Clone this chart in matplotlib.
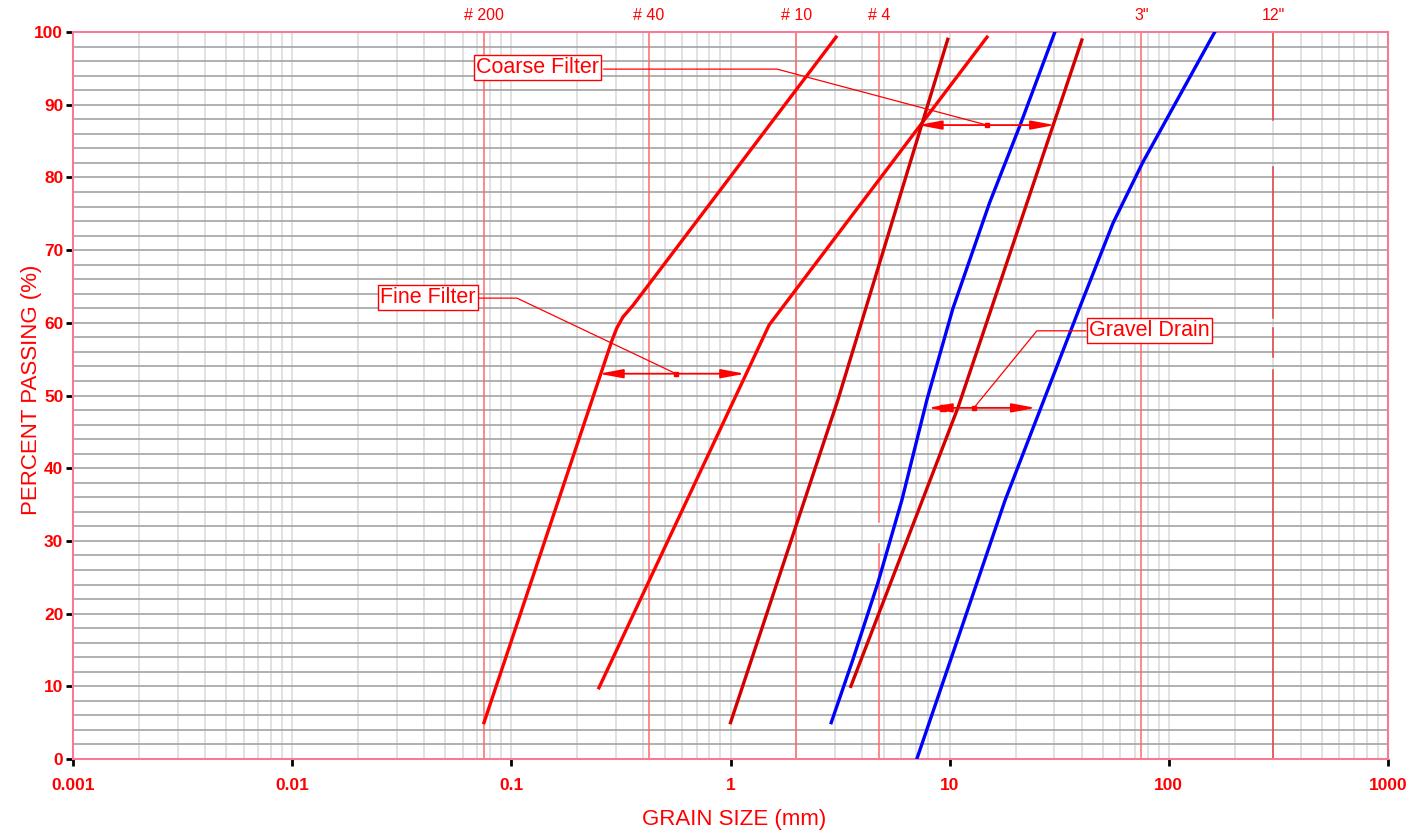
import numpy as np
import matplotlib
matplotlib.use('Agg')
import matplotlib.pyplot as plt
from matplotlib.ticker import LogLocator, MultipleLocator, FixedLocator, NullFormatter

plt.rcParams['font.family'] = ['Liberation Sans', 'DejaVu Sans']

# gradation curves (grain size mm, percent passing)
fine_lo_d = [0.075, 0.288, 0.303, 0.323, 0.359, 3.03]
fine_lo_p = [5.0, 57.6, 59.3, 60.8, 62.4, 99.3]
fine_hi_d = [0.251, 1.5, 14.8]
fine_hi_p = [9.8, 59.7, 99.3]

coarse_lo_d = [1.0, 3.09, 9.8]
coarse_lo_p = [5.0, 49.4, 99.0]
coarse_hi_d = [3.54, 10.9, 40.1]
coarse_hi_p = [10.0, 48.3, 98.9]

gravel_lo_d = [2.88, 3.61, 4.70, 6.05, 7.87, 10.35, 15.2, 20.9, 30.2]
gravel_lo_p = [5.0, 13.6, 24.2, 35.6, 49.4, 62.0, 76.5, 87.1, 100.0]
gravel_hi_d = [7.08, 17.9, 39.3, 55.6, 76.1, 162.0]
gravel_hi_p = [0.0, 35.6, 62.2, 73.7, 82.1, 100.0]

# sieve reference lines
sieve_d = [0.075, 0.425, 2.0, 4.75, 75, 300]
sieve_lab = ['# 200', '# 40', '# 10', '# 4', '3"', '12"']

x_ticks = [0.001, 0.01, 0.1, 1, 10, 100, 1000]
x_ticklab = ['0.001', '0.01', '0.1', '1', '10', '100', '1000']
y_ticks = [0, 10, 20, 30, 40, 50, 60, 70, 80, 90, 100]

tick_font = ['Liberation Sans Narrow', 'Liberation Sans', 'DejaVu Sans']

fig = plt.figure(figsize=(14.07, 8.34), dpi=100)
ax = fig.add_axes([0.0519, 0.0899, 0.9346, 0.8717])
ax.set_xscale('log')
ax.set_xlim(0.001, 1000)
ax.set_ylim(0, 100)

# grid
ax.xaxis.set_major_locator(FixedLocator(x_ticks))
ax.xaxis.set_minor_locator(LogLocator(base=10, subs=np.arange(2, 10)))
ax.xaxis.set_minor_formatter(NullFormatter())
ax.yaxis.set_major_locator(FixedLocator(y_ticks))
ax.yaxis.set_minor_locator(MultipleLocator(2))
ax.grid(which='both', axis='x', color='#dcdcdc', lw=1.2, zorder=0)
ax.grid(which='both', axis='y', color='#a3a3a3', lw=1.2, zorder=0)
ax.set_axisbelow(True)
ax.tick_params(which='minor', length=0)
ax.tick_params(which='major', length=5, width=2, color='black', labelcolor='red')
ax.tick_params(axis='x', pad=9)
ax.tick_params(axis='y', pad=2)
ax.set_xticklabels(x_ticklab, fontweight='bold', family=tick_font, fontsize=12.5)
ax.set_yticklabels([str(v) for v in y_ticks], fontweight='bold', family=tick_font, fontsize=12.5)
for s in ax.spines.values():
    s.set_color('#f77b94')
    s.set_linewidth(1.5)

# sieve lines and labels (gaps as in the drawing)
for d, lab in zip(sieve_d, sieve_lab):
    if lab == '12"':
        segs = [(0, 0.535), (0.553, 0.593), (0.607, 0.814), (0.879, 1)]
        col = '#e04040'
    elif lab == '# 4':
        segs = [(0, 0.296), (0.326, 1)]
        col = '#ff6a6a'
    else:
        segs = [(0, 1)]
        col = '#ff6a6a'
    for a, b in segs:
        ax.axvline(d, a, b, color=col, lw=1.1, zorder=1)
    ax.text(d, 101.3, lab, color='red', fontsize=11.5, ha='center', va='bottom')

# curves
ax.plot(fine_lo_d, fine_lo_p, color='#ff0000', lw=2.4, zorder=3)
ax.plot(fine_hi_d, fine_hi_p, color='#ff0000', lw=2.4, zorder=3)
ax.plot(coarse_lo_d, coarse_lo_p, color='#d40000', lw=2.4, zorder=3)
ax.plot(coarse_hi_d, coarse_hi_p, color='#d40000', lw=2.4, zorder=3)
ax.plot(gravel_lo_d, gravel_lo_p, color='#0000ff', lw=2.4, zorder=3)
ax.plot(gravel_hi_d, gravel_hi_p, color='#0000ff', lw=2.4, zorder=3)

# annotations
arrow = dict(arrowstyle='<|-|>,head_length=0.8,head_width=0.15', color='red', lw=1.3,
             shrinkA=0, shrinkB=0, mutation_scale=18)
box = dict(boxstyle='square,pad=0.1', fc='white', ec='red', lw=1)


def label(x0, x1, y, xdot, corner, text_xy, text):
    ax.annotate('', xy=(x0, y), xytext=(x1, y), arrowprops=arrow, zorder=5)
    ax.plot([xdot], [y], 's', color='red', ms=2.5, zorder=5)
    ax.plot([corner[0][0], corner[1][0], xdot], [corner[0][1], corner[1][1], y],
            color='red', lw=0.9, zorder=5)
    ax.text(text_xy[0], text_xy[1], text, color='red', fontsize=15.5,
            ha='center', va='center', bbox=box, zorder=6)


label(7.16, 30.2, 87.2, 14.8, [(0.264, 94.9), (1.63, 94.9)], (0.132, 95.1), 'Coarse Filter')
label(0.251, 1.164, 53.0, 0.564, [(0.0711, 63.4), (0.106, 63.4)], (0.0415, 63.5), 'Fine Filter')
label(7.96, 24.7, 48.3, 12.9, [(41.8, 58.9), (25.0, 58.9)], (81.8, 58.9), 'Gravel Drain')
ax.plot([9.3], [48.3], 's', color='red', ms=4, zorder=5)

fig.text(734 / 1407, 1 - 820 / 834, 'GRAIN SIZE (mm)', color='red', fontsize=16,
         ha='center', va='center')
fig.text(31 / 1407, 1 - 389.5 / 834, 'PERCENT PASSING (%)', color='red', fontsize=16,
         ha='center', va='center', rotation=90)

fig.savefig('out.png', dpi=100)
